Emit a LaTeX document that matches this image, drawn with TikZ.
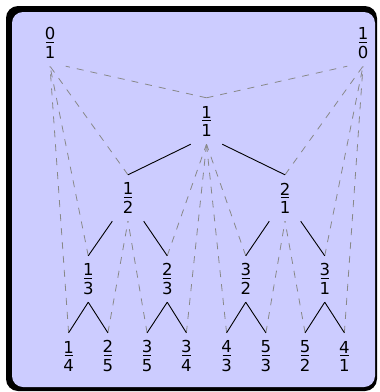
\documentclass[tikz,border=0pt]{standalone}
\usepackage{fontspec}
\setmainfont{DejaVu Sans}
\definecolor{lav}{HTML}{CCCCFF}
\definecolor{dgray}{HTML}{888888}
\newcommand\fr[2]{\vbox{\baselineskip0pt\lineskip0pt\lineskiplimit0pt
  \halign{\hfil##\hfil\cr#1\cr
  \noalign{\kern2pt\moveright1.15pt\vbox{\hrule width 8.2pt height 1pt}\kern3pt}
  #2\cr}}}
\begin{document}
\begin{tikzpicture}[x=1pt,y=-1pt,
  frac/.style={inner sep=0pt, minimum width=31pt, minimum height=46pt,
    font=\fontsize{16.5}{20}\selectfont, text=black},
  treeedge/.style={draw=black, line width=0.9pt},
  anc/.style={draw=dgray, dash pattern=on 7pt off 7pt, line width=0.8pt}]
\useasboundingbox (0,0) rectangle (380,392);
\fill[black, rounded corners=12pt] (6,6) rectangle (377,391);
\fill[lav, rounded corners=11pt] (12,12) rectangle (375,387);
% nodes
\node[frac] (a01) at (50,43) {\fr{0}{1}};
\node[frac] (a10) at (363,43) {\fr{1}{0}};
\node[frac] (n11) at (206.5,121) {\fr{1}{1}};
\node[frac] (n12) at (128,198) {\fr{1}{2}};
\node[frac] (n21) at (285,198) {\fr{2}{1}};
\node[frac] (n13) at (88.25,279) {\fr{1}{3}};
\node[frac] (n23) at (167.25,279) {\fr{2}{3}};
\node[frac] (n32) at (245.75,279) {\fr{3}{2}};
\node[frac] (n31) at (324.75,279) {\fr{3}{1}};
\node[frac] (n14) at (68.6,356) {\fr{1}{4}};
\node[frac] (n25) at (107.9,356) {\fr{2}{5}};
\node[frac] (n35) at (147.1,356) {\fr{3}{5}};
\node[frac] (n34) at (186.4,356) {\fr{3}{4}};
\node[frac] (n43) at (226.6,356) {\fr{4}{3}};
\node[frac] (n53) at (265.9,356) {\fr{5}{3}};
\node[frac] (n52) at (305.1,356) {\fr{5}{2}};
\node[frac] (n41) at (344.4,356) {\fr{4}{1}};
% ancestor links (dashed)
\draw[anc] (n11.north) -- (a01.south east);
\draw[anc] (n11.north) -- (a10.south west);
\draw[anc] (n12.north) -- (a01.south);
\draw[anc] (n21.north) -- (a10.south);
\draw[anc] (n13.north) -- (a01.south);
\draw[anc] (n23.north) -- (n11.south);
\draw[anc] (n32.north) -- (n11.south);
\draw[anc] (n31.north) -- (a10.south);
\draw[anc] (n14.north) -- (a01.south);
\draw[anc] (n25.north) -- (n12.south);
\draw[anc] (n35.north) -- (n12.south);
\draw[anc] (n34.north) -- (n11.south);
\draw[anc] (n43.north) -- (n11.south);
\draw[anc] (n53.north) -- (n21.south);
\draw[anc] (n52.north) -- (n21.south);
\draw[anc] (n41.north) -- (a10.south);
% tree edges
\draw[treeedge] (n11.south west) -- (n12.north);
\draw[treeedge] (n11.south east) -- (n21.north);
\draw[treeedge] (n12.south west) -- (n13.north);
\draw[treeedge] (n12.south east) -- (n23.north);
\draw[treeedge] (n21.south west) -- (n32.north);
\draw[treeedge] (n21.south east) -- (n31.north);
\draw[treeedge] (n13.south) -- (n14.north);
\draw[treeedge] (n13.south) -- (n25.north);
\draw[treeedge] (n23.south) -- (n35.north);
\draw[treeedge] (n23.south) -- (n34.north);
\draw[treeedge] (n32.south) -- (n43.north);
\draw[treeedge] (n32.south) -- (n53.north);
\draw[treeedge] (n31.south) -- (n52.north);
\draw[treeedge] (n31.south) -- (n41.north);
\end{tikzpicture}
\end{document}
